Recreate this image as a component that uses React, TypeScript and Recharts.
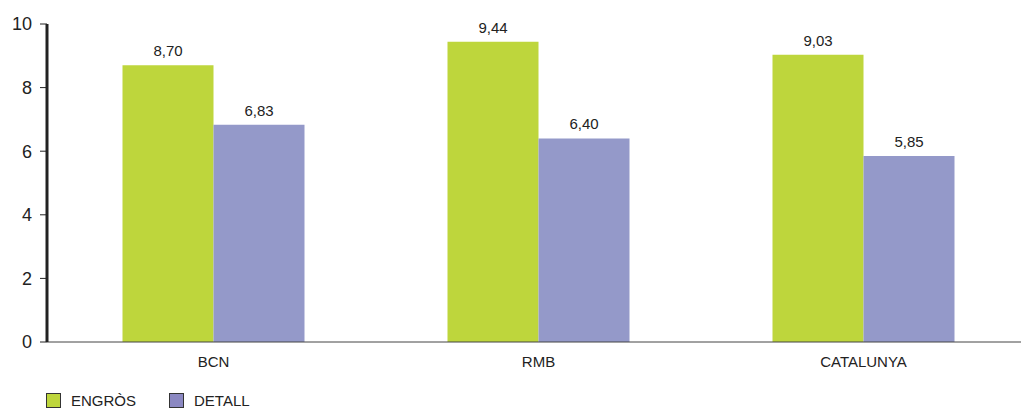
import React from "react";
import { BarChart, Bar, XAxis, YAxis, LabelList, Legend } from "recharts";

const categories = ["BCN", "RMB", "CATALUNYA"];
const engros = [8.7, 9.44, 9.03];
const detall = [6.83, 6.4, 5.85];
const yTicks = [0, 2, 4, 6, 8, 10];

const GREEN = "#BED63C";
const PURPLE = "#9499C9";
const FONT = "'Liberation Sans', Arial, Helvetica, sans-serif";

const data = categories.map((c, i) => ({ name: c, ENGRÒS: engros[i], DETALL: detall[i] }));

const fmt = (v: any) => Number(v).toFixed(2).replace(".", ",");

const LegendContent = () => (
  <div style={{ display: "flex", alignItems: "center", fontFamily: FONT, fontSize: 15, color: "#222" }}>
    {[
      { label: "ENGRÒS", color: GREEN },
      { label: "DETALL", color: "#8B88C2" },
    ].map((it) => (
      <div key={it.label} style={{ display: "flex", alignItems: "center", marginRight: 33 }}>
        <div
          style={{
            width: 13,
            height: 13,
            background: it.color,
            border: "1px solid #333",
            marginRight: 10,
          }}
        />
        <span>{it.label}</span>
      </div>
    ))}
  </div>
);

export default function App() {
  return (
    <div style={{ position: "absolute", left: 0, top: 0, background: "#fff" }}>
      <BarChart
        width={1021}
        height={408}
        data={data}
        margin={{ top: 24, right: -5, left: 0, bottom: 0 }}
        barCategoryGap="22%"
        barGap={0}
      >
        <XAxis
          dataKey="name"
          axisLine={{ stroke: "#444", strokeWidth: 1 }}
          tickLine={false}
          tick={{ fill: "#222", fontSize: 15, fontFamily: FONT }}
          tickMargin={8}
          height={46}
          padding={{ left: 4, right: 0 }}
        />
        <YAxis
          domain={[0, 10]}
          ticks={yTicks}
          width={47}
          axisLine={{ stroke: "#222", strokeWidth: 3 }}
          tickLine={{ stroke: "#222", strokeWidth: 1 }}
          tickSize={7}
          tick={{ fill: "#222", fontSize: 18, fontFamily: FONT }}
          tickMargin={8}
          interval={0}
        />
        <Legend
          verticalAlign="bottom"
          align="left"
          content={<LegendContent />}
          wrapperStyle={{ left: 46, bottom: -4, height: 20, width: 400 }}
        />
        <Bar dataKey="ENGRÒS" fill={GREEN} isAnimationActive={false}>
          <LabelList
            dataKey="ENGRÒS"
            position="top"
            offset={9}
            formatter={fmt}
            style={{ fill: "#222", fontSize: 15, fontFamily: FONT }}
          />
        </Bar>
        <Bar dataKey="DETALL" fill={PURPLE} isAnimationActive={false}>
          <LabelList
            dataKey="DETALL"
            position="top"
            offset={9}
            formatter={fmt}
            style={{ fill: "#222", fontSize: 15, fontFamily: FONT }}
          />
        </Bar>
      </BarChart>
    </div>
  );
}
